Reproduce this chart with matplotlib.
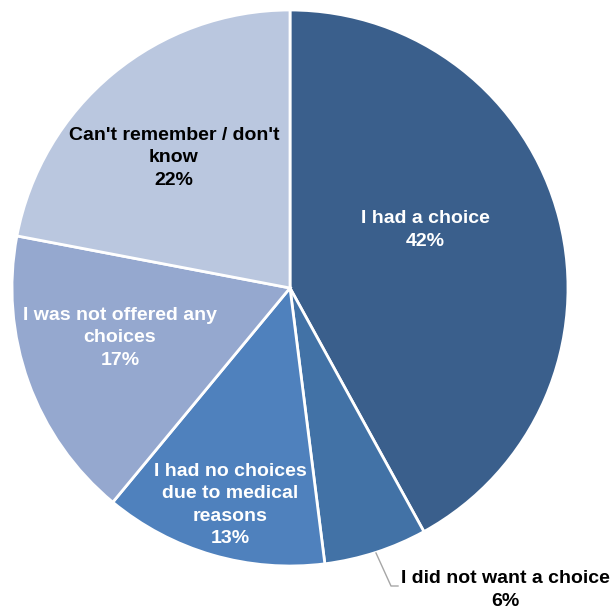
import matplotlib.pyplot as plt

plt.rcParams['font.family'] = ['Liberation Sans', 'DejaVu Sans']

labels = ["I had a choice", "I did not want a choice", "I had no choices\ndue to medical\nreasons",
          "I was not offered any\nchoices", "Can't remember / don't\nknow"]
values = [42, 6, 13, 17, 22]
colors = ['#3A5F8C', '#4272A6', '#4F81BD', '#95A8CF', '#BAC7DF']
text_colors = ['white', 'black', 'white', 'white', 'black']

# label centres in pixel coords (from top-left)
label_pos = [(425, 230), (505, 590), (230, 505), (120, 338), (174, 158)]

W, H = 614, 613
fig = plt.figure(figsize=(W / 100, H / 100), dpi=100)
ax = fig.add_axes([0, 0, 1, 1])

cx, cy, r = 290, H - 288, 278
ax.pie(values, colors=colors, startangle=90, counterclock=False,
       center=(cx, cy), radius=r, frame=True,
       wedgeprops=dict(edgecolor='white', linewidth=2))
ax.set_xlim(0, W)
ax.set_ylim(0, H)
ax.set_aspect('equal')
ax.axis('off')

for lab, v, tc, (x, y) in zip(labels, values, text_colors, label_pos):
    ax.text(x, H - y, f"{lab}\n{v}%", ha='center', va='center', fontsize=14,
            fontweight='bold', color=tc, linespacing=1.42)

# leader line for the small slice
ax.plot([376, 391, 398], [H - 553, H - 586, H - 586], color='#A6A6A6', lw=1)

fig.savefig('out.png', dpi=100)
